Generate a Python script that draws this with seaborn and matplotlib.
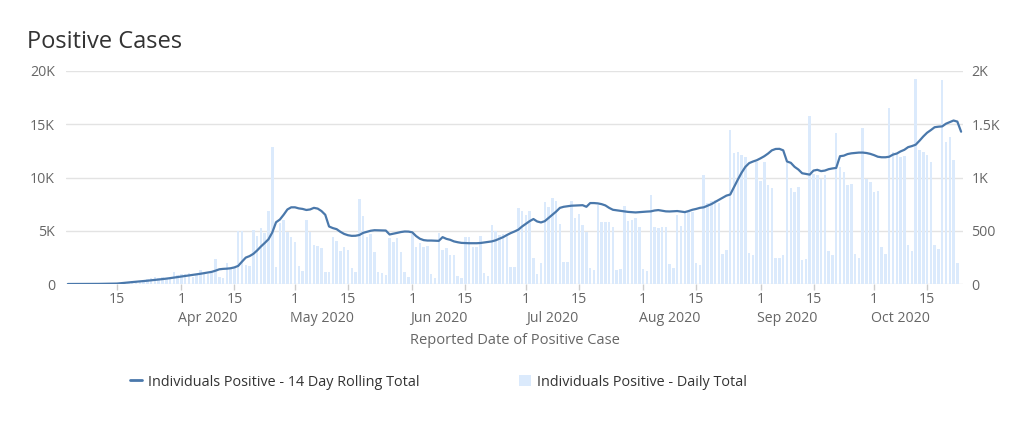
import matplotlib
matplotlib.use("Agg")
import matplotlib.pyplot as plt
import matplotlib.dates as mdates
from matplotlib.lines import Line2D
from matplotlib.patches import Patch
import numpy as np
import pandas as pd
import seaborn as sns

# ---------------- data ----------------
start_date = "2020-03-02"

daily_total = [
    0, 0, 1, 0, 2, 1, 1,
    2, 3, 4, 5, 4, 6, 8,
    12, 15, 20, 25, 30, 22, 30,
    45, 55, 70, 60, 65, 50, 60,
    110, 85, 90, 95, 100, 70, 80,
    130, 95, 95, 100, 235, 70, 55,
    200, 147, 153, 500, 500, 178, 170,
    510, 450, 525, 475, 688, 1288, 160,
    570, 600, 491, 444, 397, 172, 122,
    600, 491, 366, 360, 335, 116, 116,
    438, 407, 310, 344, 316, 147, 116,
    795, 642, 438, 466, 304, 110, 100,
    85, 429, 397, 435, 304, 116, 69,
    466, 344, 382, 350, 360, 91, 60,
    482, 319, 335, 272, 272, 75, 60,
    444, 444, 344, 344, 454, 100, 75,
    554, 498, 460, 466, 450, 156, 163,
    710, 685, 650, 685, 241, 94, 200,
    767, 720, 811, 779, 560, 210, 203,
    779, 623, 654, 554, 485, 153, 131,
    742, 579, 585, 585, 538, 131, 141,
    732, 592, 601, 623, 532, 138, 125,
    836, 532, 523, 538, 532, 185, 147,
    648, 545, 664, 679, 679, 200, 178,
    1023, 757, 779, 789, 764, 279, 319,
    1446, 1227, 1243, 1211, 1196, 294, 272,
    1142, 967, 1142, 930, 905, 241, 241,
    272, 1133, 898, 861, 908, 225, 235,
    1581, 1030, 1024, 986, 1024, 313, 272,
    1415, 1102, 1049, 930, 939, 279, 241,
    1462, 986, 955, 867, 873, 351, 282,
    1650, 1243, 1227, 1196, 1202, 366, 313,
    1925, 1258, 1236, 1211, 1142, 366, 329,
    1916, 1337, 1383, 1164, 194,
]

rolling_14day = [
    0, 0, 1, 1, 3, 4, 5,
    7, 10, 14, 18, 24, 30, 40,
    70, 110, 150, 180, 210, 240, 275,
    310, 345, 385, 420, 460, 500, 550,
    600, 650, 700, 740, 790, 840, 900,
    960, 1020, 1080, 1140, 1250, 1380, 1420,
    1440, 1480, 1560, 1700, 2100, 2480, 2620,
    2830, 3150, 3520, 3850, 4200, 4840, 5800,
    6050, 6500, 7000, 7200, 7200, 7100, 7050,
    6950, 7000, 7150, 7080, 6850, 6500, 5400,
    5250, 5150, 4900, 4700, 4580, 4520, 4530,
    4600, 4800, 4900, 5000, 5050, 5040, 5030,
    5020, 4650, 4720, 4800, 4880, 4930, 4920,
    4850, 4500, 4250, 4120, 4080, 4080, 4060,
    4050, 4400, 4240, 4150, 4000, 3920, 3860,
    3840, 3830, 3830, 3830, 3850, 3900, 3950,
    4000, 4100, 4250, 4400, 4600, 4780, 4930,
    5100, 5400, 5650, 5900, 6100, 5870, 5780,
    5900, 6200, 6500, 6800, 7150, 7250, 7300,
    7350, 7370, 7380, 7400, 7250, 7600, 7600,
    7570, 7500, 7380, 7150, 6970, 6920, 6880,
    6820, 6770, 6740, 6720, 6750, 6780, 6800,
    6820, 6900, 6940, 6880, 6820, 6810, 6830,
    6850, 6800, 6750, 6850, 6970, 7050, 7150,
    7200, 7350, 7500, 7700, 7900, 8100, 8300,
    8400, 9100, 9800, 10450, 11000, 11350, 11500,
    11620, 11800, 12000, 12250, 12550, 12680, 12690,
    12550, 11500, 11380, 11000, 10750, 10400, 10330,
    10270, 10650, 10720, 10600, 10650, 10780, 10850,
    10900, 12000, 12050, 12200, 12270, 12300, 12340,
    12340, 12300, 12220, 12100, 11950, 11900, 11900,
    11950, 12150, 12250, 12450, 12600, 12850, 12950,
    13080, 13450, 13850, 14200, 14450, 14720, 14770,
    14800, 15050, 15200, 15350, 15250, 14300,
]

left_ticks = [0, 5000, 10000, 15000, 20000]
left_labels = ["0", "5K", "10K", "15K", "20K"]
right_ticks = [0, 500, 1000, 1500, 2000]
right_labels = ["0", "500", "1K", "1.5K", "2K"]
day_tick_dates = ["2020-03-15", "2020-04-01", "2020-04-15", "2020-05-01", "2020-05-15",
                  "2020-06-01", "2020-06-15", "2020-07-01", "2020-07-15", "2020-08-01",
                  "2020-08-15", "2020-09-01", "2020-09-15", "2020-10-01", "2020-10-15"]
day_tick_labels = ["15", "1", "15", "1", "15", "1", "15", "1", "15", "1", "15", "1", "15", "1", "15"]
month_label_dates = ["2020-04-08", "2020-05-08", "2020-06-08", "2020-07-08",
                     "2020-08-08", "2020-09-08", "2020-10-08"]
month_labels = ["Apr 2020", "May 2020", "Jun 2020", "Jul 2020", "Aug 2020", "Sep 2020", "Oct 2020"]

title = "Positive Cases"
x_title = "Reported Date of Positive Case"
line_name = "Individuals Positive - 14 Day Rolling Total"
bar_name = "Individuals Positive - Daily Total"

# ---------------- build frames ----------------
line_dates = pd.date_range(start_date, periods=len(rolling_14day), freq="D")
bar_dates = line_dates[:len(daily_total)]
df_line = pd.DataFrame({"x": mdates.date2num(line_dates), "y": rolling_14day})
df_bar = pd.DataFrame({"x": mdates.date2num(bar_dates), "y": daily_total})

LINE_COLOR = "#4a78ab"
BAR_COLOR = "#dbeafc"
GRID_COLOR = "#e3e3e3"
TICK_COLOR = "#666666"
FS = 10.2

sns.set_theme(style="white")
plt.rcParams["font.family"] = ["Open Sans", "DejaVu Sans"]

fig = plt.figure(figsize=(10.22, 4.21), dpi=100)
ax = fig.add_subplot(111)
fig.subplots_adjust(left=66/1022, right=963/1022, top=1-71/421, bottom=1-284/421)
ax2 = ax.twinx()

# bars on right axis
sns.barplot(data=df_bar, x="x", y="y", native_scale=True, width=0.66,
            color=BAR_COLOR, saturation=1, errorbar=None, ax=ax2, linewidth=0, zorder=2)
# line on left axis
sns.lineplot(data=df_line, x="x", y="y", ax=ax, color=LINE_COLOR, linewidth=1.6, zorder=5)

ax.set_zorder(ax2.get_zorder() + 1)
ax.patch.set_visible(False)

xmin = df_line["x"].iloc[0] - 0.5
xmax = df_line["x"].iloc[-1] + 0.5
for a in (ax, ax2):
    a.set_xlim(xmin, xmax)
    for s in a.spines.values():
        s.set_visible(False)

ax.set_ylim(0, 20000)
ax2.set_ylim(0, 2000)

ax2.set_yticks(right_ticks)
ax2.set_yticklabels(right_labels)
ax.set_yticks(left_ticks)
ax.set_yticklabels(left_labels)

ax2.grid(True, axis="y", color=GRID_COLOR, linewidth=1.0)
ax2.set_axisbelow(True)
ax.grid(False)
ax2.xaxis.grid(False)

ax.tick_params(axis="y", length=0, pad=8, labelsize=FS, labelcolor=TICK_COLOR)
ax2.tick_params(axis="y", length=0, pad=6, labelsize=FS, labelcolor=TICK_COLOR)

ax.set_xticks(mdates.date2num(pd.to_datetime(day_tick_dates)))
ax.set_xticklabels(day_tick_labels)
ax.set_xticks(mdates.date2num(pd.to_datetime(month_label_dates)), minor=True)
ax.set_xticklabels(month_labels, minor=True)
ax.tick_params(axis="x", which="major", length=4, width=1, color="#cccccc",
               pad=1.5, labelsize=FS, labelcolor=TICK_COLOR, bottom=True)
ax.tick_params(axis="x", which="minor", length=0, pad=19.5,
               labelsize=FS, labelcolor=TICK_COLOR, bottom=True)
ax2.tick_params(axis="x", which="both", bottom=False, labelbottom=False)

ax.set_xlabel(x_title, fontsize=10.5, color=TICK_COLOR, labelpad=5)
ax.set_ylabel("")
ax2.set_ylabel("")
ax2.set_xlabel("")

fig.text(27/1022, 1-42/421, title, fontsize=17, color="#333333", va="center", ha="left")

handles = [Line2D([0], [0], color=LINE_COLOR, linewidth=2.0),
           Patch(facecolor=BAR_COLOR, edgecolor="none")]
fig.legend(handles, [line_name, bar_name], loc="center left",
           bbox_to_anchor=(130/1022, 1-382/421), ncol=2, frameon=False,
           fontsize=10.4, labelcolor="#333333", handlelength=0.8, handleheight=0.75,
           handletextpad=0.45, columnspacing=6.9, borderpad=0, borderaxespad=0)

fig.savefig("out.png", dpi=100)
